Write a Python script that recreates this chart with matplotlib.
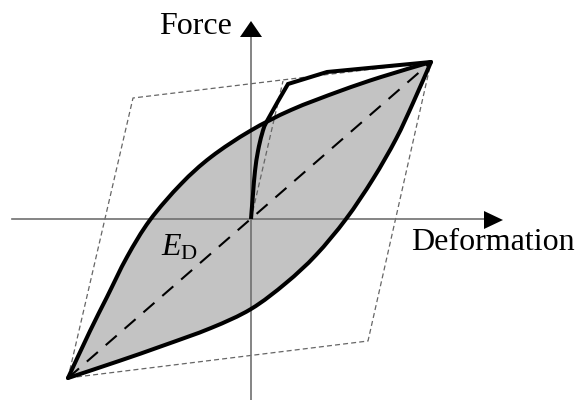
import matplotlib
matplotlib.use("Agg")
import matplotlib.pyplot as plt
from matplotlib.path import Path
from matplotlib.patches import PathPatch

plt.rcParams['mathtext.fontset'] = 'custom'
plt.rcParams['mathtext.rm'] = 'Liberation Serif'
plt.rcParams['mathtext.it'] = 'Liberation Serif:italic'

# ---- data (deformation, force) in arbitrary schematic units ----
upper_def = [-183, -161, -144, -124, -101, -70, -40, -1, 40, 89, 130, 180]
upper_force = [-159, -112, -78, -38, -1, 35, 62, 88, 109, 128, 142, 157]

lower_def = [180, 162, 145, 122, 95, 65, 35, 0, -40, -89, -132, -183]
lower_force = [157, 116, 80, 40, 0, -36, -64, -90, -109, -127, -142, -159]

skeleton_curve_def = [0, 2, 4, 7, 11, 16, 37]
skeleton_curve_force = [0, 25, 48, 68, 85, 98, 135]
skeleton_line_def = [37, 76, 180]
skeleton_line_force = [135, 147, 157]

bilinear_def = [-183, -118, 180, 117, -183]
bilinear_force = [-159, 121, 157, -122, -159]
elastic_def = [0, 32]
elastic_force = [0, 138]

secant_def = [-183, 180]
secant_force = [-159, 157]


def smooth_verts(xs, ys):
    """Catmull-Rom control points so matplotlib draws cubic Bezier segments
    through the given points."""
    pts = list(zip(xs, ys))
    n = len(pts)
    verts = [pts[0]]
    codes = [Path.MOVETO]
    for i in range(n - 1):
        p0 = pts[i - 1] if i > 0 else pts[i]
        p1 = pts[i]
        p2 = pts[i + 1]
        p3 = pts[i + 2] if i + 2 < n else pts[i + 1]
        c1 = (p1[0] + (p2[0] - p0[0]) / 6.0, p1[1] + (p2[1] - p0[1]) / 6.0)
        c2 = (p2[0] - (p3[0] - p1[0]) / 6.0, p2[1] - (p3[1] - p1[1]) / 6.0)
        verts += [c1, c2, p2]
        codes += [Path.CURVE4] * 3
    return verts, codes


fig = plt.figure(figsize=(5.76, 4.0), dpi=100)
ax = fig.add_axes([0, 0, 1, 1])
ax.set_xlim(-251, 325)
ax.set_ylim(-181, 219)
ax.axis('off')

uv, uc = smooth_verts(upper_def, upper_force)
lv, lc = smooth_verts(lower_def, lower_force)

# shaded loop
loop_verts = uv + lv[1:] + [uv[0]]
loop_codes = uc + lc[1:] + [Path.CLOSEPOLY]
ax.add_patch(PathPatch(Path(loop_verts, loop_codes), facecolor='#c3c3c3',
                       edgecolor='none', zorder=1))

# bilinear dashed parallelogram
ax.plot(bilinear_def, bilinear_force, color='#666666', lw=0.9, ls=(0, (4, 2.5)), zorder=2)
ax.plot(elastic_def, elastic_force, color='#666666', lw=0.9, ls=(0, (4, 2.5)), zorder=2)

# axes
ax.plot([-239, 240], [0, 0], color='#707070', lw=1.2, zorder=3)
ax.plot([0, 0], [-181, 184], color='#707070', lw=1.2, zorder=3)
ax.fill([252, 233, 233], [-1, 8, -10], color='black', zorder=4, lw=0)
ax.fill([0, -11, 11], [198, 182, 182], color='black', zorder=4, lw=0)

# secant dashed line
ax.plot(secant_def, secant_force, color='black', lw=1.5, ls=(0, (7, 5)), zorder=5)

# loop branches
ax.add_patch(PathPatch(Path(uv, uc), facecolor='none', edgecolor='black',
                       lw=2.9, joinstyle='round', capstyle='round', zorder=6))
ax.add_patch(PathPatch(Path(lv, lc), facecolor='none', edgecolor='black',
                       lw=2.9, joinstyle='round', capstyle='round', zorder=6))

# skeleton curve
sv, sc = smooth_verts(skeleton_curve_def, skeleton_curve_force)
sv += list(zip(skeleton_line_def[1:], skeleton_line_force[1:]))
sc += [Path.LINETO] * (len(skeleton_line_def) - 1)
ax.add_patch(PathPatch(Path(sv, sc), facecolor='none', edgecolor='black',
                       lw=2.9, joinstyle='miter', zorder=6))

# labels
ax.text(-19, 192, 'Force', fontsize=23, family='Liberation Serif', ha='right', va='center')
ax.text(160, -24, 'Deformation', fontsize=23, family='Liberation Serif', ha='left', va='center')
ax.text(-90, -28, r'$E_{\mathrm{D}}$', fontsize=23, ha='left', va='center')

fig.savefig('out.png', dpi=100)
